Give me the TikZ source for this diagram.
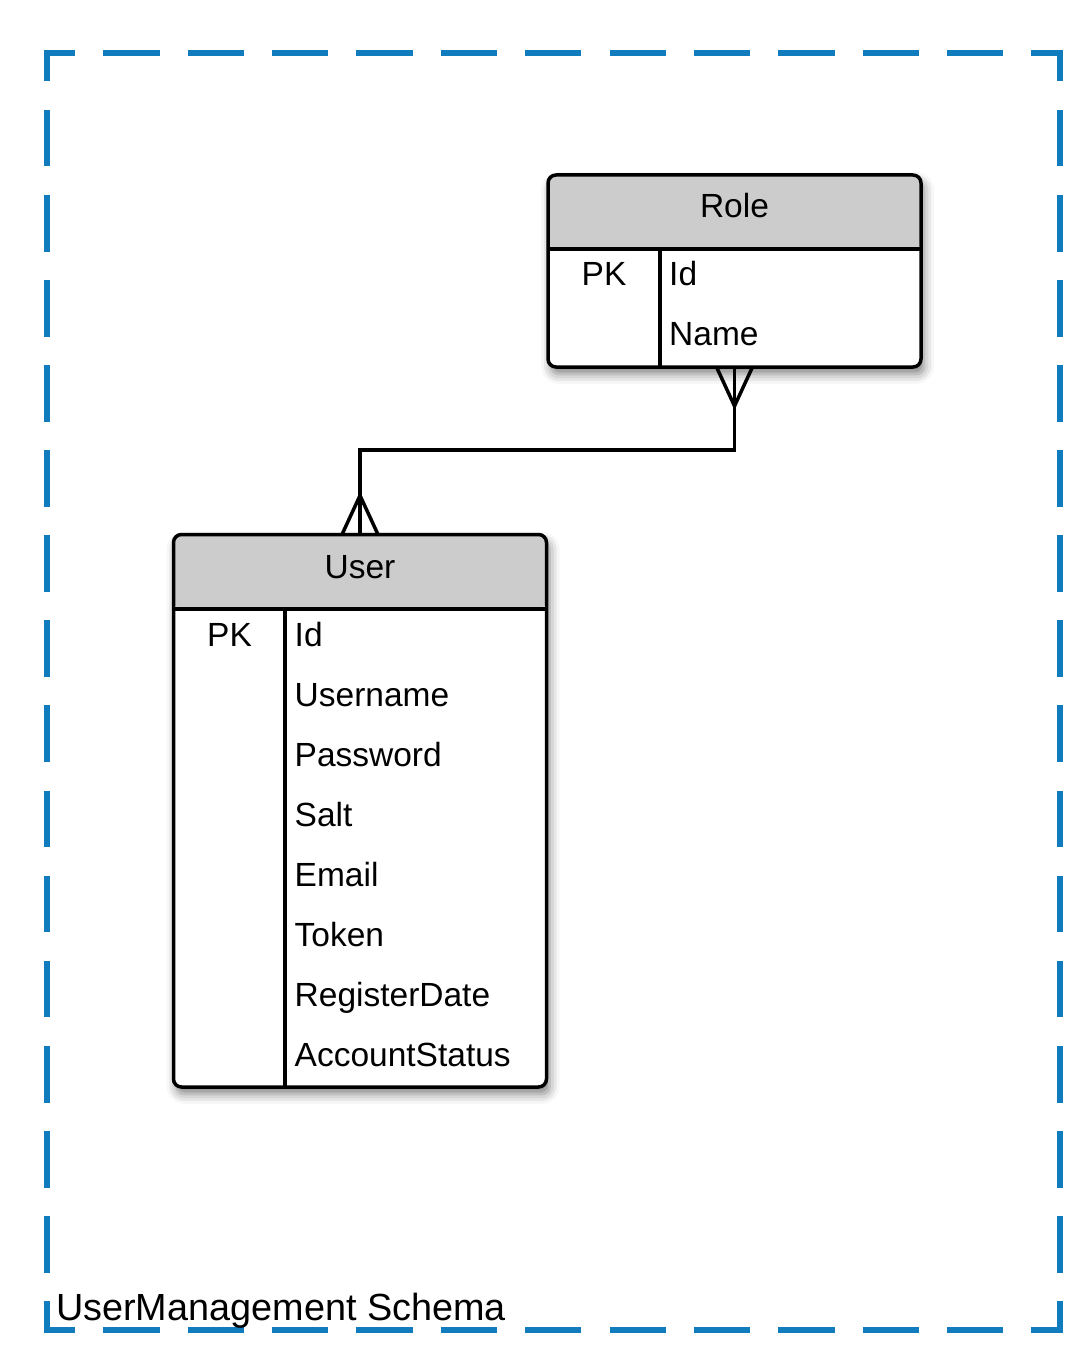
\documentclass[tikz,border=0pt]{standalone}
\usepackage{fontspec}
\setmainfont{Liberation Sans}
\usetikzlibrary{shadows.blur}
\definecolor{schemablue}{RGB}{16,124,189}
\definecolor{headgray}{RGB}{204,204,204}
\begin{document}
\begin{tikzpicture}[x=1pt,y=-1pt,
    entity/.style={draw,line width=3.5pt,rounded corners=8pt,fill=white,outer sep=0pt,inner sep=0pt,minimum width=373pt,
        blur shadow={shadow xshift=3pt,shadow yshift=-7pt,shadow blur radius=10pt,shadow opacity=50},
        path picture={\fill[headgray] (path picture bounding box.north west) rectangle ([yshift=-74pt]path picture bounding box.north east);}},
    sep/.style={line width=3.5pt},
    link/.style={line width=3.5pt},
    title/.style={font=\fontsize{33.5}{40}\selectfont,anchor=base},
    key/.style={font=\fontsize{33.5}{40}\selectfont,anchor=base,inner sep=0pt},
    field/.style={font=\fontsize{33.5}{40}\selectfont,anchor=base west,inner sep=0pt},
    hframe/.style={schemablue,line width=6pt,line cap=rect,dash pattern=on 50.25pt off 34.125pt,dash phase=25.125pt},
    vframe/.style={schemablue,line width=6pt,line cap=rect,dash pattern=on 50.73pt off 34.37pt,dash phase=25.37pt}]
    \useasboundingbox (0,0) rectangle (1077,1367);
    \coordinate (nw) at (47,53);
    \coordinate (ne) at (1059.5,53);
    \coordinate (se) at (1059.5,1329.5);
    \coordinate (sw) at (47,1329.5);
    \draw[hframe] (nw) -- (ne);
    \draw[vframe] (ne) -- (se);
    \draw[hframe] (se) -- (sw);
    \draw[vframe] (sw) -- (nw);
    \node[anchor=base west,inner sep=0pt,font=\fontsize{37.8}{45}\selectfont] (schemalabel) at (56,1320) {UserManagement Schema};
    \node[entity,minimum height=192pt] (role) at (734.5,271) {};
    \draw[sep] ([yshift=-74pt]role.north west) -- ([yshift=-74pt]role.north east);
    \draw[sep] ([shift={(112pt,-74pt)}]role.north west) -- ([xshift=112pt]role.south west);
    \node[title] (roletitle) at ([yshift=-43pt]role.north) {Role};
    \node[key] (rolepk) at ([shift={(56pt,-110pt)}]role.north west) {PK};
    \node[field] (roleid) at ([shift={(121pt,-110pt)}]role.north west) {Id};
    \node[field] (rolename) at ([yshift=-60pt]roleid.base west) {Name};
    \node[entity,minimum height=552.5pt] (user) at (360,810.75) {};
    \draw[sep] ([yshift=-74.5pt]user.north west) -- ([yshift=-74.5pt]user.north east);
    \draw[sep] ([shift={(111.5pt,-74.5pt)}]user.north west) -- ([xshift=111.5pt]user.south west);
    \node[title] (usertitle) at ([yshift=-43.5pt]user.north) {User};
    \node[key] (userpk) at ([shift={(56pt,-111.5pt)}]user.north west) {PK};
    \node[field] (userid) at ([shift={(121pt,-111.5pt)}]user.north west) {Id};
    \node[field] (username) at ([yshift=-60pt]userid.base west) {Username};
    \node[field] (password) at ([yshift=-60pt]username.base west) {Password};
    \node[field] (salt) at ([yshift=-60pt]password.base west) {Salt};
    \node[field] (email) at ([yshift=-60pt]salt.base west) {Email};
    \node[field] (token) at ([yshift=-60pt]email.base west) {Token};
    \node[field] (registerdate) at ([yshift=-60pt]token.base west) {RegisterDate};
    \node[field] (accountstatus) at ([yshift=-60pt]registerdate.base west) {AccountStatus};
    \draw[link] (role.south) -- ++(0,83) -| (user.north);
    \draw[link] ([xshift=-18pt]role.south) -- ++(18,39) -- ++(18,-39);
    \draw[link] ([xshift=-18pt]user.north) -- ++(18,-39) -- ++(18,39);
\end{tikzpicture}
\end{document}
